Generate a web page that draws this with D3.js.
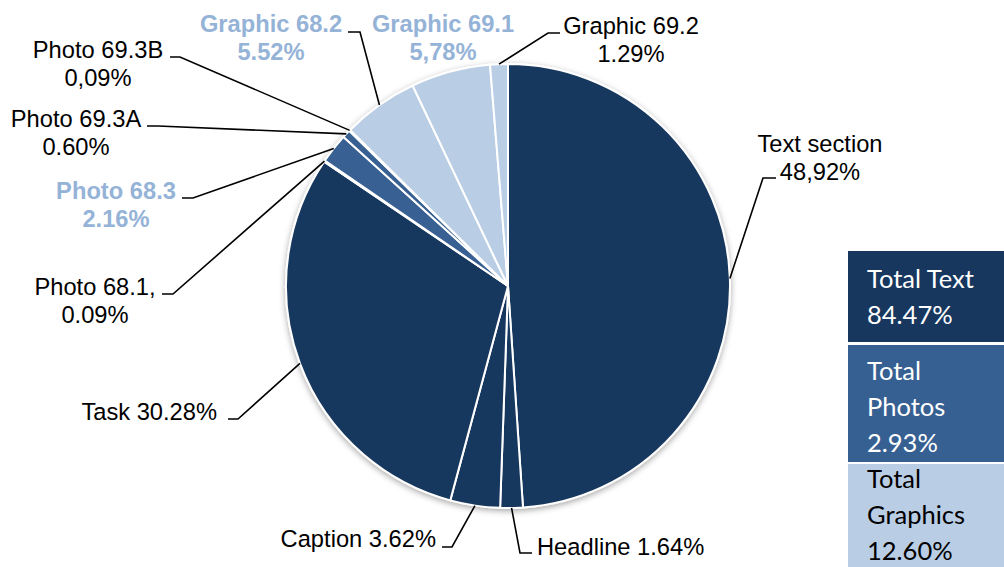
<!DOCTYPE html>
<html>
<head>
<meta charset="utf-8">
<script src="https://cdn.jsdelivr.net/npm/d3@7"></script>
<style>
  html, body { margin: 0; padding: 0; background: #fff; }
  svg { display: block; }
</style>
</head>
<body>
<svg id="chart" width="1004" height="567"></svg>
<script>
// Share of reading attention per page element (percent)
const sliceNames  = ["Text section", "Headline", "Caption", "Task", "Photo 68.1", "Photo 68.3",
                     "Photo 69.3A", "Photo 69.3B", "Graphic 68.2", "Graphic 69.1", "Graphic 69.2"];
const sliceShares = [48.92, 1.64, 3.62, 30.28, 0.09, 2.16, 0.60, 0.09, 5.52, 5.78, 1.29];
const sliceGroups = ["Text", "Text", "Text", "Text", "Photos", "Photos",
                     "Photos", "Photos", "Graphics", "Graphics", "Graphics"];
const sliceLabels = [
  ["Text section", "48,92%"], ["Headline 1.64%"], ["Caption 3.62%"], ["Task 30.28%"],
  ["Photo 68.1,", "0.09%"], ["Photo 68.3", "2.16%"], ["Photo 69.3A", "0.60%"],
  ["Photo 69.3B", "0,09%"], ["Graphic 68.2", "5.52%"], ["Graphic 69.1", "5,78%"],
  ["Graphic 69.2", "1.29%"]
];
const emphasised = ["Photo 68.3", "Graphic 68.2", "Graphic 69.1"];

// Group totals shown in the side boxes
const totalGroups = ["Text", "Photos", "Graphics"];
const totalValues = [84.47, 2.93, 12.60];
const totalLines  = [["Total Text", "84.47%"], ["Total", "Photos", "2.93%"], ["Total", "Graphics", "12.60%"]];

// ---- styling & layout ----
const groupColor = d3.scaleOrdinal()
  .domain(totalGroups)
  .range(["#17375E", "#376092", "#B9CDE5"]);
const totalText = d3.scaleOrdinal().domain(totalGroups).range(["#ffffff", "#ffffff", "#000000"]);

const cx = 508, cy = 286, radius = 222;
const labelFont = "'Liberation Sans', Arial, sans-serif";
const labelSize = 23.7, labelLead = 28;

// label placement: first baseline, anchor, and leader (start point on label side + knee x)
const labelLayout = {
  "Text section": { x: 820, y: 152, anchor: "middle", lead: [776, 178, 763] },
  "Headline":     { x: 537, y: 555, anchor: "start",  lead: [532, 553, 520] },
  "Caption":      { x: 436, y: 547, anchor: "end",    lead: [442, 547, 452] },
  "Task":         { x: 217, y: 420, anchor: "end",    lead: [228, 419, 238] },
  "Photo 68.1":   { x: 95,  y: 295, anchor: "middle", lead: [162, 294, 173] },
  "Photo 68.3":   { x: 116, y: 199, anchor: "middle", lead: [182, 198, 193] },
  "Photo 69.3A":  { x: 76,  y: 127, anchor: "middle", lead: [147, 126, 158] },
  "Photo 69.3B":  { x: 98,  y: 58,  anchor: "middle", lead: [170, 57, 180] },
  "Graphic 68.2": { x: 271, y: 32,  anchor: "middle", lead: [348, 32, 360] },
  "Graphic 69.1": { x: 443, y: 32,  anchor: "middle", lead: null },
  "Graphic 69.2": { x: 631, y: 34,  anchor: "middle", lead: [560, 33, 548] }
};

const slices = sliceNames.map((name, i) => ({
  name, share: sliceShares[i], group: sliceGroups[i], lines: sliceLabels[i]
}));

const svg = d3.select("#chart");

const defs = svg.append("defs");
const shadow = defs.append("filter").attr("id", "pieShadow")
  .attr("x", "-10%").attr("y", "-10%").attr("width", "120%").attr("height", "120%");
shadow.append("feDropShadow")
  .attr("dx", 0).attr("dy", 2).attr("stdDeviation", 3)
  .attr("flood-color", "#000").attr("flood-opacity", 0.35);

const pie = d3.pie().sort(null).value(d => d.share).startAngle(0).endAngle(2 * Math.PI);
const arcs = pie(slices);
const arc = d3.arc().innerRadius(0).outerRadius(radius);
const edge = d3.arc().innerRadius(radius).outerRadius(radius);

const pieG = svg.append("g").attr("transform", `translate(${cx},${cy})`);
pieG.append("g").attr("filter", "url(#pieShadow)")
  .selectAll("path").data(arcs).join("path")
  .attr("d", arc)
  .attr("fill", d => groupColor(d.data.group))
  .attr("stroke", "#fff")
  .attr("stroke-width", 2)
  .attr("stroke-linejoin", "round");

// leader lines
const leaderG = svg.append("g")
  .attr("fill", "none").attr("stroke", "#000").attr("stroke-width", 1.6);
arcs.forEach(d => {
  const lay = labelLayout[d.data.name];
  if (!lay.lead) return;
  const [ex, ey] = edge.centroid(d);
  const [lx, ly, kx] = lay.lead;
  leaderG.append("path")
    .attr("d", `M${lx},${ly}H${kx}L${cx + ex},${cy + ey}`);
});

// slice labels
const labelG = svg.append("g")
  .attr("font-family", labelFont).attr("font-size", labelSize);
arcs.forEach(d => {
  const lay = labelLayout[d.data.name];
  const hot = emphasised.includes(d.data.name);
  const t = labelG.append("text")
    .attr("text-anchor", lay.anchor)
    .attr("fill", hot ? "#95B3D7" : "#000")
    .attr("font-weight", hot ? "bold" : "normal");
  d.data.lines.forEach((line, i) => {
    t.append("tspan").attr("x", lay.x).attr("y", lay.y + i * labelLead).text(line);
  });
});

// group total boxes
const boxTop = [251, 345, 464];
const boxBottom = [342, 462, 567];
const boxFirstBaseline = [288, 380, 488];
const boxG = svg.append("g").attr("font-family", "Lato, 'Open Sans', sans-serif").attr("font-size", 25.5);
totalGroups.forEach((g, i) => {
  boxG.append("rect")
    .attr("x", 848).attr("y", boxTop[i])
    .attr("width", 1004 - 848).attr("height", boxBottom[i] - boxTop[i])
    .attr("fill", groupColor(g));
  const t = boxG.append("text").attr("fill", totalText(g));
  const lines = totalLines[i];
  lines.forEach((line, j) => {
    const txt = j === lines.length - 1 ? totalValues[i].toFixed(2) + "%" : line;
    t.append("tspan").attr("x", 867).attr("y", boxFirstBaseline[i] + j * 36).text(txt);
  });
});
</script>
</body>
</html>
